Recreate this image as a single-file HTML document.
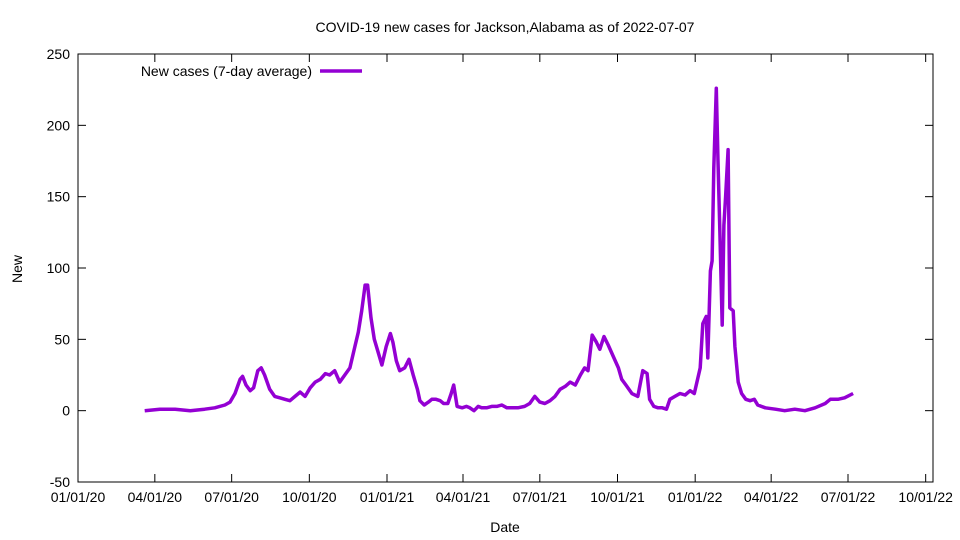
<!DOCTYPE html>
<html><head><meta charset="utf-8"><style>
body{margin:0;background:#fff;}
svg{display:block;font-family:"Liberation Sans",sans-serif;}
</style></head><body>
<svg id="chart" width="960" height="540">
<text x="505" y="32" text-anchor="middle" font-size="14">COVID-19 new cases for Jackson,Alabama as of 2022-07-07</text>
<text x="505" y="532" text-anchor="middle" font-size="14">Date</text>
<text transform="translate(22,269) rotate(-90)" text-anchor="middle" font-size="14">New</text>
<g id="axes"></g>
<g id="series"></g>
<g>
<text x="312" y="76" text-anchor="end" font-size="14">New cases (7-day average)</text>
<line x1="320" y1="71" x2="362" y2="71" stroke="#9400d3" stroke-width="3.5"/>
</g>
</svg>
<script>
const days = [79,97,115,133,150,162,174,180,186,192,195,199,204,208,213,217,221,227,233,239,245,251,257,263,269,275,281,287,293,298,304,310,316,322,328,332,336,340,343,347,351,355,360,365,370,373,377,381,387,392,397,402,405,410,415,419,424,429,433,438,442,445,449,455,460,464,469,474,478,484,490,496,502,508,514,521,529,535,541,547,553,559,565,571,577,583,589,595,600,604,609,614,618,623,628,634,640,644,649,656,663,669,674,677,682,687,692,697,701,707,713,719,725,730,737,740,744,746,749,751,753,756,758,760,763,765,767,770,772,776,778,782,786,791,796,801,805,814,826,837,849,861,873,885,891,900,908,918];
const cases = [0,1,1,0,1,2,4,6,12,22,24,18,14,16,28,30,25,15,10,9,8,7,10,13,10,16,20,22,26,25,28,20,25,30,45,55,70,88,88,65,50,42,32,45,54,48,35,28,30,36,25,15,7,4,6,8,8,7,5,5,12,18,3,2,3,2,0,3,2,2,3,3,4,2,2,2,3,5,10,6,5,7,10,15,17,20,18,25,30,28,53,48,43,52,46,38,30,22,18,12,10,28,26,8,3,2,2,1,8,10,12,11,14,12,30,61,66,37,98,105,170,226,175,130,60,130,150,183,72,70,45,20,12,8,7,8,4,2,1,0,1,0,2,5,8,8,9,12];
const xTickLabels = ["01/01/20","04/01/20","07/01/20","10/01/20","01/01/21","04/01/21","07/01/21","10/01/21","01/01/22","04/01/22","07/01/22","10/01/22"];
const xTickDays = [0,91,182,274,366,456,547,639,731,821,912,1004];
const yTicks = [-50,0,50,100,150,200,250];

const L=78,R=933,T=54,B=482,NS="http://www.w3.org/2000/svg";
const xs=d=>L+d*(848-78)/912;
const ys=v=>B-(v+50)*(B-T)/300;
const ax=document.getElementById('axes');
function mk(tag,attrs,parent){const e=document.createElementNS(NS,tag);for(const k in attrs)e.setAttribute(k,attrs[k]);parent.appendChild(e);return e;}
const frame=mk('rect',{x:L,y:T,width:R-L,height:B-T,fill:'none',stroke:'#000','stroke-width':1},ax);


yTicks.forEach(v=>{
  const y=ys(v);
  mk('line',{x1:L,y1:y,x2:L+8,y2:y,stroke:'#000'},ax);
  mk('line',{x1:R,y1:y,x2:R-8,y2:y,stroke:'#000'},ax);
  const t=mk('text',{x:L-8,y:y+5,'text-anchor':'end','font-size':14},ax);
  t.textContent=v;
  
  
});
xTickDays.forEach((d,i)=>{
  const x=xs(d);
  mk('line',{x1:x,y1:B,x2:x,y2:B-8,stroke:'#000'},ax);
  mk('line',{x1:x,y1:T,x2:x,y2:T+8,stroke:'#000'},ax);
  const t=mk('text',{x:x,y:B+20,'text-anchor':'middle','font-size':14},ax);
  t.textContent=xTickLabels[i];
  
  
});
const pts=days.map((d,i)=>xs(d).toFixed(1)+','+ys(cases[i]).toFixed(1)).join(' ');
const line=mk('polyline',{points:pts,fill:'none',stroke:'#9400d3','stroke-width':3.5,'stroke-linejoin':'round'},document.getElementById('series'));


</script>
</body></html>
